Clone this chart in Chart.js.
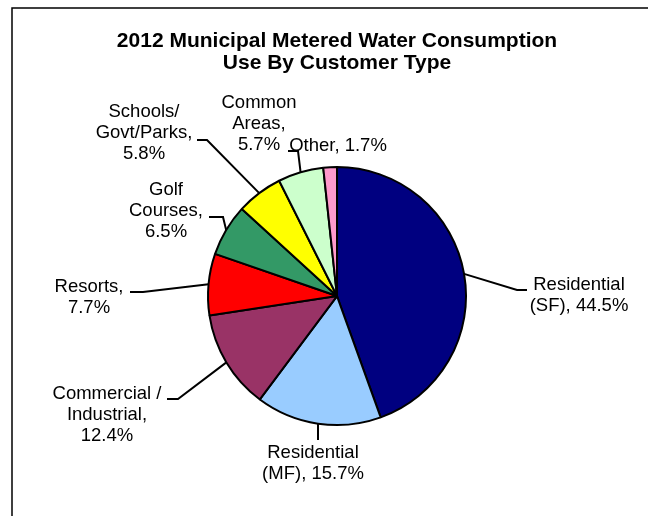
<!DOCTYPE html>
<html>
<head>
<meta charset="utf-8">
<script src="https://cdn.jsdelivr.net/npm/chart.js@4/dist/chart.umd.min.js"></script>
<style>
    html, body { margin: 0; padding: 0; background: #fff; }
    canvas { display: block; }
</style>
</head>
<body>
<canvas id="waterChart" width="648" height="516"></canvas>
<script>
const categories = [
    'Residential (SF)',
    'Residential (MF)',
    'Commercial / Industrial',
    'Resorts',
    'Golf Courses',
    'Schools/ Govt/Parks',
    'Common Areas',
    'Other',
];
const shares = [44.5, 15.7, 12.4, 7.7, 6.5, 5.8, 5.7, 1.7];
const sliceColors = ['#000080', '#99CCFF', '#993366', '#FF0000', '#339966', '#FFFF00', '#CCFFCC', '#FF99CC'];
const titleLines = ['2012 Municipal Metered Water Consumption', 'Use By Customer Type'];

// how each data label wraps; {v} is replaced by the value
const labelLines = [
    ['Residential', '(SF), {v}'],
    ['Residential', '(MF), {v}'],
    ['Commercial /', 'Industrial,', '{v}'],
    ['Resorts,', '{v}'],
    ['Golf', 'Courses,', '{v}'],
    ['Schools/', 'Govt/Parks,', '{v}'],
    ['Common', 'Areas,', '{v}'],
    ['Other, {v}'],
];

// label placement: text centre of first line, leader elbow and end point
const labelLayout = [
    { x: 579, y: 285, elbow: [517, 290], end: [527, 290] },
    { x: 313, y: 453, elbow: [318, 440], end: null },
    { x: 107, y: 394, elbow: [178, 399], end: [167, 399] },
    { x: 89, y: 287, elbow: [143, 292], end: [130, 292] },
    { x: 166, y: 190, elbow: [223, 217], end: [209, 217] },
    { x: 144, y: 112, elbow: [207, 140], end: [197, 140] },
    { x: 259, y: 103, elbow: [298, 151], end: [288, 151] },
    { x: 338, y: 146, elbow: null, end: null },
];

const FONT = "'Liberation Sans', Arial, sans-serif";

const framePlugin = {
    id: 'frame',
    beforeDraw(chart) {
        const ctx = chart.ctx;
        ctx.save();
        ctx.strokeStyle = '#000';
        ctx.lineWidth = 1.5;
        ctx.beginPath();
        ctx.moveTo(12, chart.height);
        ctx.lineTo(12, 8);
        ctx.lineTo(chart.width, 8);
        ctx.stroke();
        ctx.restore();
    },
};

const pieLabelPlugin = {
    id: 'pieLabels',
    afterDatasetsDraw(chart) {
        const ctx = chart.ctx;
        const arcs = chart.getDatasetMeta(0).data;
        const values = chart.data.datasets[0].data;
        ctx.save();
        arcs.forEach((arc, i) => {
            const lay = labelLayout[i];
            const p = arc.getProps(['x', 'y', 'startAngle', 'endAngle', 'outerRadius'], true);
            const mid = (p.startAngle + p.endAngle) / 2;
            const ex = p.x + Math.cos(mid) * p.outerRadius;
            const ey = p.y + Math.sin(mid) * p.outerRadius;

            if (lay.elbow) {
                ctx.strokeStyle = '#000';
                ctx.lineWidth = 2;
                ctx.beginPath();
                ctx.moveTo(ex, ey);
                ctx.lineTo(lay.elbow[0], lay.elbow[1]);
                if (lay.end) ctx.lineTo(lay.end[0], lay.end[1]);
                ctx.stroke();
            }

            ctx.fillStyle = '#000';
            ctx.font = '18.5px ' + FONT;
            ctx.textAlign = 'center';
            ctx.textBaseline = 'middle';
            const pct = values[i].toFixed(1) + '%';
            labelLines[i].forEach((line, k) => {
                ctx.fillText(line.replace('{v}', pct), lay.x, lay.y + k * 21);
            });
        });
        ctx.restore();
    },
};

new Chart(document.getElementById('waterChart'), {
    type: 'pie',
    data: {
        labels: categories,
        datasets: [
            {
                data: shares,
                backgroundColor: sliceColors,
                borderColor: '#000',
                borderWidth: 2,
                radius: 129,
            },
        ],
    },
    options: {
        responsive: false,
        animation: false,
        layout: {
            padding: { left: 26, right: 0, top: 0, bottom: 24 },
        },
        plugins: {
            legend: { display: false },
            tooltip: { enabled: false },
            title: {
                display: true,
                text: titleLines,
                color: '#000',
                font: { family: FONT, size: 21, weight: 'bold', lineHeight: 1.05 },
                padding: { top: 30, bottom: 26 },
            },
        },
    },
    plugins: [framePlugin, pieLabelPlugin],
});
</script>
</body>
</html>
